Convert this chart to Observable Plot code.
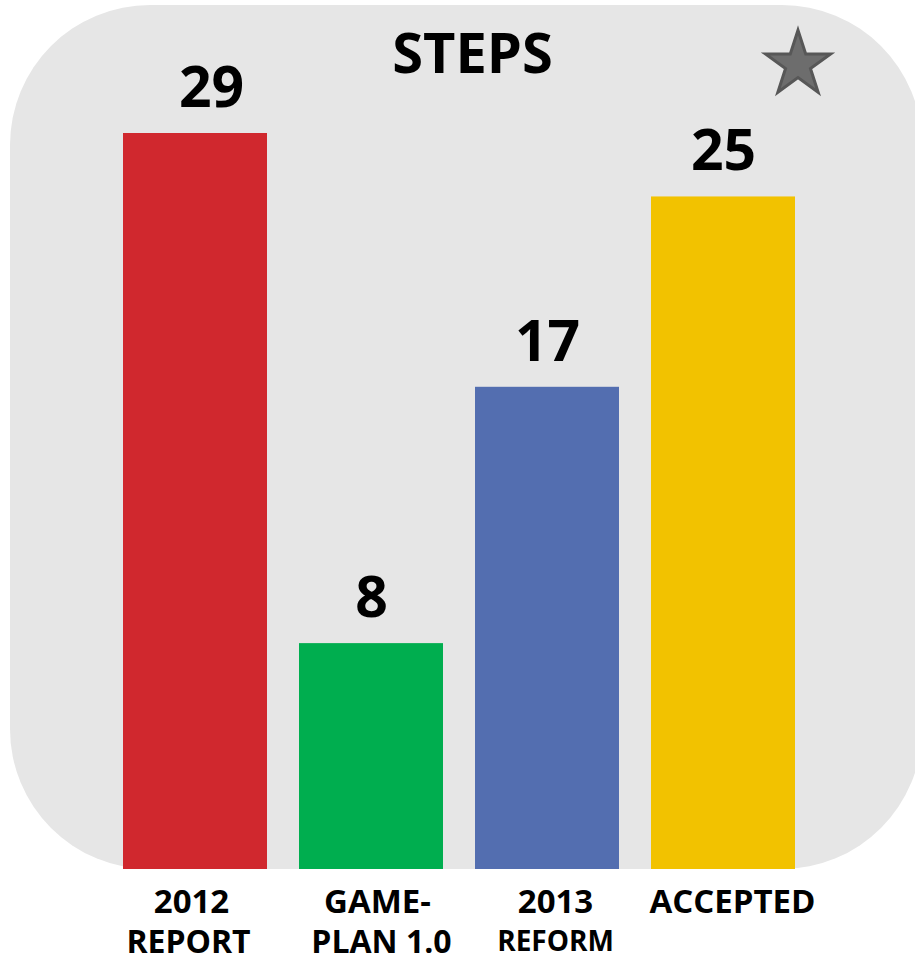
<!DOCTYPE html>
<html>
<head>
<meta charset="utf-8">
<script src="https://cdn.jsdelivr.net/npm/d3@7"></script>
<script src="https://cdn.jsdelivr.net/npm/@observablehq/plot@0.6"></script>
<style>
  html, body { margin: 0; padding: 0; background: #ffffff; overflow: hidden; }
  #wrap { position: relative; width: 915px; height: 962px; overflow: hidden; }
  #bg { position: absolute; left: 10px; top: 5px; width: 912px; height: 864px;
        background: #e6e6e6; border-radius: 140px; }
  #chart { position: absolute; left: 0; top: 0; }
  svg { font-family: "Open Sans", "Liberation Sans", sans-serif; }
</style>
</head>
<body>
<div id="wrap"><div id="bg"></div><div id="chart"></div></div>
<script>
const title = "STEPS";
const categories = ["2012 REPORT", "GAME-PLAN 1.0", "2013 REFORM", "ACCEPTED"];
const labelLine1 = ["2012", "GAME-", "2013", "ACCEPTED"];
const labelLine2 = ["REPORT", "PLAN 1.0", "REFORM", ""];
const values = [29, 8, 17, 25];              // printed values
const barHeights = [29, 8.9, 19.0, 26.5];    // bar lengths as drawn in the picture
const colors = ["#d0282e", "#00ae4f", "#536eb0", "#f2c200"];

const rows = categories.map((c, i) => ({
  cat: c, value: values[i], h: barHeights[i], color: colors[i],
  l1: labelLine1[i], l2: labelLine2[i], idx: i
}));

// per-label fine offsets (layout only)
const dx1 = [-4, 6, 8, 9];
const dx2 = [-7, 10, 8, 0];
const dy2 = [73, 73, 73, 73];
const fs2 = [32, 32, 28, 32];

const labelMarks = [];
rows.forEach((r, i) => {
  labelMarks.push(Plot.text([r], {
    x: "cat", text: "l1", frameAnchor: "bottom", dy: 33, dx: dx1[i],
    lineAnchor: "middle", fontSize: 33, fontWeight: 700, fill: "#000"
  }));
  if (r.l2) labelMarks.push(Plot.text([r], {
    x: "cat", text: "l2", frameAnchor: "bottom", dy: dy2[i], dx: dx2[i],
    lineAnchor: "middle", fontSize: fs2[i], fontWeight: 700, fill: "#000"
  }));
});

const chart = Plot.plot({
  width: 915,
  height: 962,
  marginTop: 133,
  marginBottom: 93,
  marginLeft: 122,
  marginRight: 119,
  style: { background: "transparent", overflow: "visible" },
  x: { domain: categories, paddingInner: 0.184, paddingOuter: 0, axis: null },
  y: { domain: [0, 29], axis: null },
  marks: [
    Plot.barY(rows, { x: "cat", y: "h", fill: "color" }),
    Plot.text(rows.filter(d => d.idx === 0), {
      x: "cat", y: "h", text: d => String(d.value), dy: -45, dx: 16,
      lineAnchor: "middle", fontSize: 57, fontWeight: 700, fill: "#000"
    }),
    Plot.text(rows.filter(d => d.idx !== 0), {
      x: "cat", y: "h", text: d => String(d.value), dy: -45,
      lineAnchor: "middle", fontSize: 57, fontWeight: 700, fill: "#000"
    }),
    ...labelMarks,
    Plot.text([title], {
      text: d => d, frameAnchor: "top", dx: 13, dy: -78,
      lineAnchor: "middle", fontSize: 56, fontWeight: 700, fill: "#000"
    }),
    Plot.dot([title], {
      frameAnchor: "top-right", dx: 1.5, dy: -69, symbol: "star", r: 20.5,
      fill: "#6d6d6d", stroke: "#575757", strokeWidth: 3
    })
  ]
});
document.getElementById("chart").appendChild(chart);
</script>
</body>
</html>
